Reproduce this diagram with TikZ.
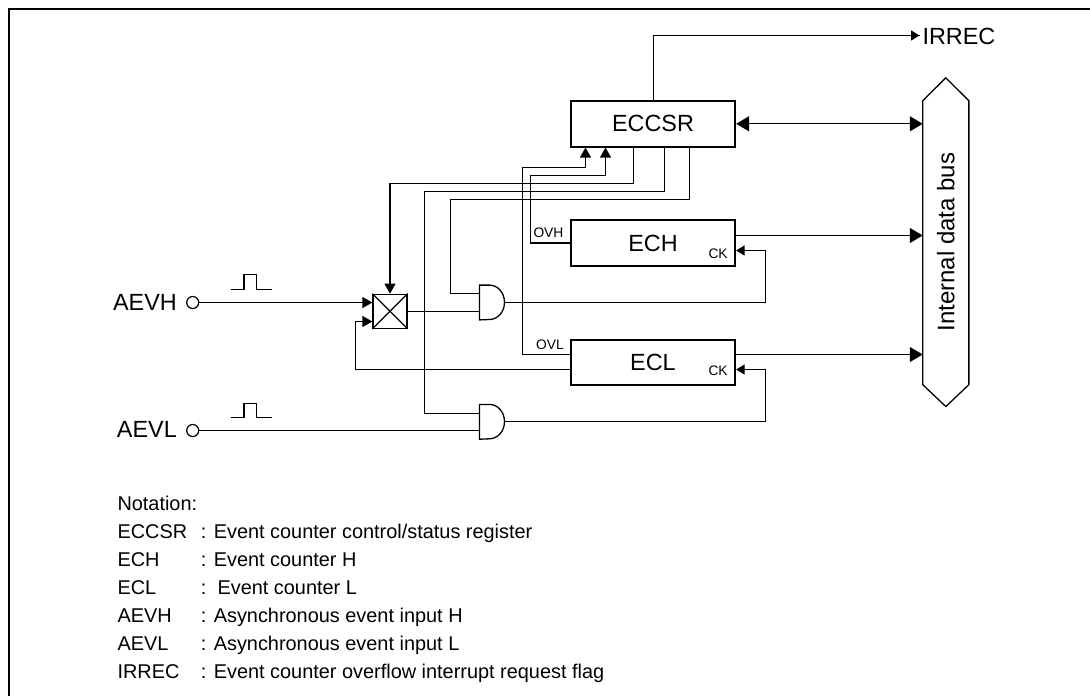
\documentclass[tikz,border=0pt]{standalone}
\usepackage{fontspec}
\setmainfont{Liberation Sans}
\usetikzlibrary{arrows.meta}
\newcommand\bigfont{\fontsize{23.4}{28}\selectfont}
\newcommand\busfont{\fontsize{24}{28}\selectfont}
\newcommand\midfont{\fontsize{19.9}{28}\selectfont}
\newcommand\tinyfont{\fontsize{13.8}{16}\selectfont}
\tikzset{
  x=1pt,y=1pt,
  box/.style={draw=black,line width=1.9pt,fill=white,inner sep=0pt,minimum width=164.4pt,minimum height=45.6pt,font=\bigfont},
  gatebox/.style={inner sep=0pt,minimum width=25pt,minimum height=34.4pt},
  busbox/.style={inner sep=0pt,minimum width=45.7pt,minimum height=328.3pt,font=\busfont},
  xbox/.style={draw=black,line width=1.3pt,inner sep=0pt,minimum size=34pt},
  pin/.style={draw=black,line width=1.2pt,circle,inner sep=0pt,minimum size=12pt,fill=white},
  wire/.style={draw=black,line width=1.3pt},
  txt/.style={inner sep=0pt,anchor=base west},
  big/.style={txt,font=\bigfont},
  legend/.style={txt,font=\midfont},
  tiny/.style={txt,font=\tinyfont},
  tipL/.style={-{Triangle[length=13pt,width=15pt]}},
  tipM/.style={-{Triangle[length=10pt,width=11pt]}},
  tipS/.style={-{Triangle[length=8.5pt,width=10pt]}},
}
\begin{document}
\begin{tikzpicture}
\useasboundingbox (0,0) rectangle (1090,-696);
\draw[line width=2.4pt] (1090,-9) -- (9,-9) -- (9,-696);

% blocks
\node[box] (eccsr) at (653,-123.8) {\raisebox{-2.5pt}{ECCSR}};
\node[box] (ech) at (653,-243) {\raisebox{-2.5pt}{ECH}};
\node[box] (ecl) at (653,-362.5) {\raisebox{-2pt}{ECL}};
\node[xbox] (mux) at (390,-311.3) {};
\draw[line width=1.3pt] (mux.north west) -- (mux.south east) (mux.north east) -- (mux.south west);
\node[gatebox] (and1) at (492.2,-302.5) {};
\node[gatebox] (and2) at (492.2,-421.8) {};
\foreach \g in {and1,and2}{
  \draw[line width=1.3pt] (\g.north west) -- ++(10,0) arc[start angle=90,end angle=-90,x radius=15,y radius=17.2] -- (\g.south west) -- cycle;
}
\node[busbox] (bus) at (945.8,-242.2) {\rotatebox{90}{Internal data bus}};
\draw[line width=1.3pt] (bus.north) -- (bus.west |- 0,-100.7) -- (bus.west |- 0,-384.7) -- (bus.south) -- (bus.east |- 0,-384.7) -- (bus.east |- 0,-100.7) -- cycle;
\node[pin] (inh) at (192.7,-302.5) {};
\node[pin] (inl) at (192.7,-430.5) {};
\coordinate (irrecEnd) at (919.5,-35.5);

% routing rails
\coordinate (xA) at (585.5,0);
\coordinate (xB) at (605.5,0);
\coordinate (xC) at (633.5,0);
\coordinate (xD) at (664.5,0);
\coordinate (xE) at (689.5,0);
\coordinate (xI) at (653.5,0);

% connectors
\draw[wire] (eccsr.north -| xI) |- (irrecEnd);
\draw[wire,tipS] (irrecEnd) ++(-9,0) -- (irrecEnd);
\draw[wire,{Triangle[length=13pt,width=15pt]}-{Triangle[length=13pt,width=15pt]}] (eccsr.east) -- (bus.west |- eccsr.east);
\draw[wire,tipL] (ech.east |- 0,-235.5) -- (bus.west |- 0,-235.5);
\draw[wire,tipL] (ecl.east |- 0,-354.5) -- (bus.west |- 0,-354.5);

% OVL -> ECCSR
\draw[wire,tipM] (ecl.west |- 0,-354.5) -- (522.5,-354.5) |- (560,-167.5) -| (eccsr.south -| xA);
% OVH -> ECCSR
\draw[wire,tipM] (ech.west) -- (530.5,-243) |- (560,-175.5) -| (eccsr.south -| xB);
% ECCSR -> mux
\draw[wire,tipM] (eccsr.south -| xC) |- (500,-183.5) -| (mux.north);
% ECCSR -> and2
\draw[wire] (eccsr.south -| xD) |- (500,-191.5) -| (424.5,-300) |- (and2.west |- 0,-413.5);
% ECCSR -> and1
\draw[wire] (eccsr.south -| xE) |- (500,-199.5) -| (450.5,-250) |- (and1.west |- 0,-293.5);

% signal paths
\draw[wire,tipM] (inh) -- (mux.west |- inh);
\draw[wire] (mux.east) -- (and1.west |- mux.east);
\draw[wire,tipM] (ecl.west |- 0,-369.5) -| (355.5,-340) |- (mux.west |- 0,-321.5);
\draw[wire] (inl) -- (and2.west |- inl);
\draw[wire,tipS] (and1.east) -| (765.5,-270) |- (ech.east |- 0,-250.5);
\draw[wire,tipS] (and2.east) -| (765.5,-400) |- (ecl.east |- 0,-369.5);

% pulses
\draw[line width=1.3pt] (230.7,-289.5) -- (244,-289.5) -- (244,-274.5) -- (256.5,-274.5) -- (256.5,-289.5) -- (271.7,-289.5);
\draw[line width=1.3pt] (230.7,-417.5) -- (244,-417.5) -- (244,-403.5) -- (256.5,-403.5) -- (256.5,-417.5) -- (271.7,-417.5);

% labels
\node[big] (lirrec) at (922.3,-44.7) {IRREC};
\node[big,anchor=base east] (laevh) at (177,-310.7) {AEVH};
\node[big,anchor=base east] (laevl) at (177,-437.7) {AEVL};
\node[tiny] (lovh) at (533.3,-237) {OVH};
\node[tiny] (lovl) at (536,-349) {OVL};
\node[tiny] (lckh) at (708.3,-258.3) {CK};
\node[tiny] (lckl) at (708.3,-375) {CK};

% notation
\node[legend] (n0) at (117.3,-510) {Notation:};
\node[legend] (n1a) at (117.3,-538) {ECCSR};
\node[legend] (n1b) at (200.7,-538) {: Event counter control/status register};
\node[legend] (n2a) at (117.3,-566) {ECH};
\node[legend] (n2b) at (200.7,-566) {: Event counter H};
\node[legend] (n3a) at (117.3,-594) {ECL};
\node[legend] (n3b) at (200.7,-594) {:\hspace{0.56em}Event counter L};
\node[legend] (n4a) at (117.3,-622) {AEVH};
\node[legend] (n4b) at (200.7,-622) {: Asynchronous event input H};
\node[legend] (n5a) at (117.3,-650) {AEVL};
\node[legend] (n5b) at (200.7,-650) {: Asynchronous event input L};
\node[legend] (n6a) at (117.3,-678) {IRREC};
\node[legend] (n6b) at (200.7,-678) {: Event counter overflow interrupt request flag};
\end{tikzpicture}
\end{document}
